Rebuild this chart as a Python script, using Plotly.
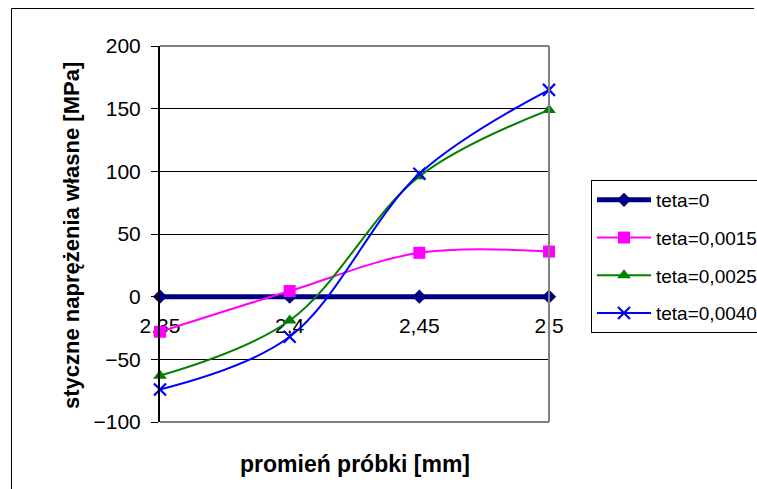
import plotly.graph_objects as go

# Radius of the sample [mm] and tangential residual stresses [MPa]
radius = [2.35, 2.40, 2.45, 2.50]
radius_labels = ["2,35", "2,4", "2,45", "2,5"]

teta_0 = [0, 0, 0, 0]
teta_0015 = [-28, 4.5, 35, 36]
teta_0025 = [-63, -19, 96, 149]
teta_0040 = [-74, -32, 98, 165]

series_names = ["teta=0", "teta=0,0015", "teta=0,0025", "teta=0,0040"]

FONT = "Liberation Sans, Arial, sans-serif"

# plot area in pixels
L, R, T, B = 160, 549, 46, 422
W, H = 757, 489
pw, ph = R - L, B - T


def px_x(x):
    return (x - L) / pw


def px_y(y):
    return (B - y) / ph


fig = go.Figure()

styles = [
    dict(y=teta_0, color="#000080", width=5, symbol="diamond", size=11, shape="linear"),
    dict(y=teta_0015, color="#FF00FF", width=2, symbol="square", size=12, shape="spline"),
    dict(y=teta_0025, color="#008000", width=2, symbol="triangle-up", size=12, shape="spline"),
    dict(y=teta_0040, color="#0000FF", width=2, symbol="x-thin", size=12, shape="spline"),
]

for i, (name, st) in enumerate(zip(series_names, styles)):
    marker = dict(symbol=st["symbol"], size=st["size"], color=st["color"])
    if st["symbol"] == "x-thin":
        marker["line"] = dict(color=st["color"], width=2.2)
    fig.add_trace(go.Scatter(
        x=radius, y=st["y"], name=name, mode="lines+markers",
        line=dict(color=st["color"], width=st["width"], shape=st["shape"], smoothing=1.0),
        marker=marker, cliponaxis=False, legendgroup=f"g{i}",
    ))

fig.update_layout(
    width=W, height=H,
    margin=dict(l=L, r=W - R, t=T, b=H - B, autoexpand=False),
    paper_bgcolor="white", plot_bgcolor="white",
    font=dict(family=FONT, color="black"),
    showlegend=True,
    legend=dict(
        x=px_x(591), y=px_y(180), xanchor="left", yanchor="top",
        bgcolor="white", bordercolor="black", borderwidth=1,
        font=dict(family=FONT, size=19, color="black"),
        itemwidth=54, tracegroupgap=10,
    ),
    xaxis=dict(
        range=[2.35, 2.5], tickmode="array", tickvals=radius, ticktext=radius_labels,
        showgrid=False, zeroline=False, showline=False, ticks="",
        anchor="free", position=1 / 3, layer="below traces",
        tickfont=dict(family=FONT, size=21), ticklabelstandoff=14,
    ),
    yaxis=dict(
        range=[-100, 200], dtick=50, showgrid=True, gridcolor="black", gridwidth=1,
        zeroline=False, showline=True, linecolor="black", linewidth=2,
        ticks="outside", ticklen=7, tickcolor="black", tickwidth=1,
        tickfont=dict(family=FONT, size=21), ticklabelstandoff=6,
    ),
    shapes=[
        # plot area frame (top, right, bottom)
        dict(type="line", xref="paper", yref="paper", x0=0, x1=1, y0=1, y1=1,
             line=dict(color="#808080", width=2)),
        dict(type="line", xref="paper", yref="paper", x0=1, x1=1, y0=0, y1=1,
             line=dict(color="#808080", width=2)),
        dict(type="line", xref="paper", yref="paper", x0=0, x1=1, y0=0, y1=0,
             line=dict(color="#808080", width=2)),
        # outer chart border (left and top edges)
        dict(type="line", xref="paper", yref="paper",
             x0=px_x(11.5), x1=px_x(11.5), y0=px_y(H), y1=px_y(8.5),
             line=dict(color="black", width=1), layer="below"),
        dict(type="line", xref="paper", yref="paper",
             x0=px_x(11.5), x1=px_x(W - 3), y0=px_y(8.5), y1=px_y(8.5),
             line=dict(color="black", width=1), layer="below"),
    ],
    annotations=[
        dict(text="<b>promień próbki [mm]</b>", xref="paper", yref="paper",
             x=0.5, y=px_y(464), xanchor="center", yanchor="middle", showarrow=False,
             font=dict(family=FONT, size=23, color="black")),
        dict(text="<b>styczne naprężenia własne [MPa]</b>", xref="paper", yref="paper",
             x=px_x(72), y=px_y(236), xanchor="center", yanchor="middle", showarrow=False,
             textangle=-90, font=dict(family=FONT, size=22, color="black")),
    ],
)

fig.write_html("out.html", config={"displayModeBar": False})
